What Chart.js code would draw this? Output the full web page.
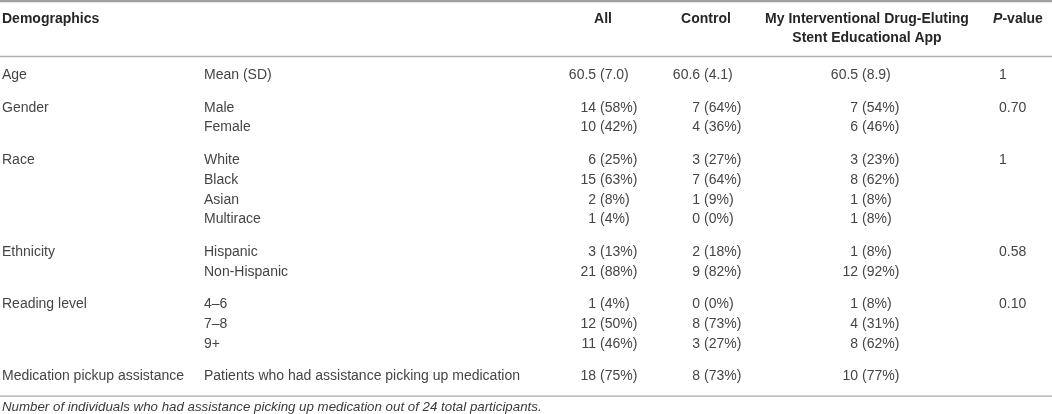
<!DOCTYPE html>
<html>
<head>
<meta charset="utf-8">
<script src="https://cdn.jsdelivr.net/npm/chart.js@4.4.1/dist/chart.umd.min.js"></script>
<style>
  html, body { margin: 0; padding: 0; background: #ffffff; }
  #wrap { width: 1052px; height: 414px; }
</style>
</head>
<body>
<div id="wrap"><canvas id="c" width="1052" height="414"></canvas></div>
<script>
// ---------- DATA ----------
const headers = ['Demographics', 'All', 'Control', 'My Interventional Drug-Eluting', 'Stent Educational App', 'P-value'];
const groups = ['Age', 'Gender', 'Race', 'Ethnicity', 'Reading level', 'Medication pickup assistance'];
const subgroups = [
  ['Mean (SD)'],
  ['Male', 'Female'],
  ['White', 'Black', 'Asian', 'Multirace'],
  ['Hispanic', 'Non-Hispanic'],
  ['4–6', '7–8', '9+'],
  ['Patients who had assistance picking up medication']
];
const allVals = ['60.5 (7.0)', '14 (58%)', '10 (42%)', '6 (25%)', '15 (63%)', '2 (8%)', '1 (4%)', '3 (13%)', '21 (88%)', '1 (4%)', '12 (50%)', '11 (46%)', '18 (75%)'];
const controlVals = ['60.6 (4.1)', '7 (64%)', '4 (36%)', '3 (27%)', '7 (64%)', '1 (9%)', '0 (0%)', '2 (18%)', '9 (82%)', '0 (0%)', '8 (73%)', '3 (27%)', '8 (73%)'];
const appVals = ['60.5 (8.9)', '7 (54%)', '6 (46%)', '3 (23%)', '8 (62%)', '1 (8%)', '1 (8%)', '1 (8%)', '12 (92%)', '1 (8%)', '4 (31%)', '8 (62%)', '10 (77%)'];
const pValues = ['1', '0.70', '1', '0.58', '0.10', ''];
const footnote = 'Number of individuals who had assistance picking up medication out of 24 total participants.';

// ---------- LAYOUT (positions only) ----------
const X = { group: 2, sub: 204, all: 600, control: 704, app: 862, p: 999,
            hAll: 603, hControl: 706, hApp: 867, hP: 1018 };
const GROUP_GAP = 0.64;             // extra row units between groups
const Y = { topRule: -3.74, head1: -2.83, head2: -1.87, headRule: -0.95, bottomRule: 16.2, foot: 16.77 };
const FONT = '"Liberation Sans", Arial, Helvetica, sans-serif';
const TEXT = '#454545';

// build row positions from the structure
const rowPos = [];
let line = 0;
subgroups.forEach((subs, g) => {
  subs.forEach((s, i) => {
    rowPos.push({ u: line + g * GROUP_GAP, g: g, first: i === 0, sub: s });
    line++;
  });
});

function pts(xv) { return rowPos.map(r => ({ x: xv, y: r.u })); }
const groupPts = rowPos.filter(r => r.first).map(r => ({ x: X.group, y: r.u }));

const datasets = [
  { label: 'group', data: groupPts.map(p => ({ x: X.group, y: p.y })), texts: groups, kind: 'left' },
  { label: 'sub', data: pts(X.sub), texts: rowPos.map(r => r.sub), kind: 'left' },
  { label: 'all', data: pts(X.all), texts: allVals, kind: 'paren' },
  { label: 'control', data: pts(X.control), texts: controlVals, kind: 'paren' },
  { label: 'app', data: pts(X.app), texts: appVals, kind: 'paren' },
  { label: 'p', data: groupPts.map(p => ({ x: X.p, y: p.y })), texts: pValues, kind: 'left' }
].map(d => Object.assign(d, { pointRadius: 0, pointHoverRadius: 0, showLine: false }));

const tablePlugin = {
  id: 'tableText',
  afterDatasetsDraw(chart) {
    const ctx = chart.ctx;
    const xs = chart.scales.x, ys = chart.scales.y;
    const W = chart.width;
    ctx.save();
    function rule(u, w, color) {
      const y = ys.getPixelForValue(u);
      ctx.strokeStyle = color; ctx.lineWidth = w;
      ctx.beginPath(); ctx.moveTo(0, y); ctx.lineTo(W, y); ctx.stroke();
    }
    rule(Y.topRule, 2.2, '#a0a0a0');
    rule(Y.headRule, 1.6, '#b0b0b0');
    rule(Y.bottomRule, 1.4, '#a8a8a8');

    // headers
    ctx.textBaseline = 'middle';
    ctx.fillStyle = '#262626';
    ctx.font = 'bold 14px ' + FONT;
    const h1 = ys.getPixelForValue(Y.head1), h2 = ys.getPixelForValue(Y.head2);
    ctx.textAlign = 'left';
    ctx.fillText(headers[0], xs.getPixelForValue(X.group), h1);
    ctx.textAlign = 'center';
    ctx.fillText(headers[1], xs.getPixelForValue(X.hAll), h1);
    ctx.fillText(headers[2], xs.getPixelForValue(X.hControl), h1);
    ctx.fillText(headers[3], xs.getPixelForValue(X.hApp), h1);
    ctx.fillText(headers[4], xs.getPixelForValue(X.hApp), h2);
    const pFirst = headers[5].charAt(0), pRest = headers[5].slice(1);
    ctx.font = 'italic bold 14px ' + FONT;
    const wP = ctx.measureText(pFirst).width;
    ctx.font = 'bold 14px ' + FONT;
    const wR = ctx.measureText(pRest).width;
    const startP = xs.getPixelForValue(X.hP) - (wP + wR) / 2;
    ctx.textAlign = 'left';
    ctx.font = 'italic bold 14px ' + FONT;
    ctx.fillText(pFirst, startP, h1);
    ctx.font = 'bold 14px ' + FONT;
    ctx.fillText(pRest, startP + wP, h1);

    // body cells
    ctx.font = '14px ' + FONT;
    ctx.fillStyle = TEXT;
    const sp = ctx.measureText(' ').width;
    chart.data.datasets.forEach((ds, di) => {
      const meta = chart.getDatasetMeta(di);
      meta.data.forEach((el, i) => {
        const t = ds.texts[i];
        if (!t) return;
        if (ds.kind === 'paren') {
          const k = t.indexOf(' (');
          const a = t.slice(0, k), b = t.slice(k + 1);
          ctx.textAlign = 'right';
          ctx.fillText(a, el.x - sp, el.y);
          ctx.textAlign = 'left';
          ctx.fillText(b, el.x, el.y);
        } else {
          ctx.textAlign = 'left';
          ctx.fillText(t, el.x, el.y);
        }
      });
    });

    // footnote
    ctx.font = 'italic 13.3px ' + FONT;
    ctx.fillStyle = '#3a3a3a';
    ctx.textAlign = 'left';
    ctx.fillText(footnote, xs.getPixelForValue(X.group), ys.getPixelForValue(Y.foot));
    ctx.restore();
  }
};

new Chart(document.getElementById('c'), {
  type: 'scatter',
  data: { datasets: datasets },
  options: {
    responsive: false,
    animation: false,
    events: [],
    layout: { padding: 0 },
    plugins: { legend: { display: false }, tooltip: { enabled: false } },
    scales: {
      x: { type: 'linear', display: false, min: 0, max: 1052 },
      y: { type: 'linear', display: false, min: -3.8, max: 17.1, reverse: true }
    }
  },
  plugins: [tablePlugin]
});
</script>
</body>
</html>
